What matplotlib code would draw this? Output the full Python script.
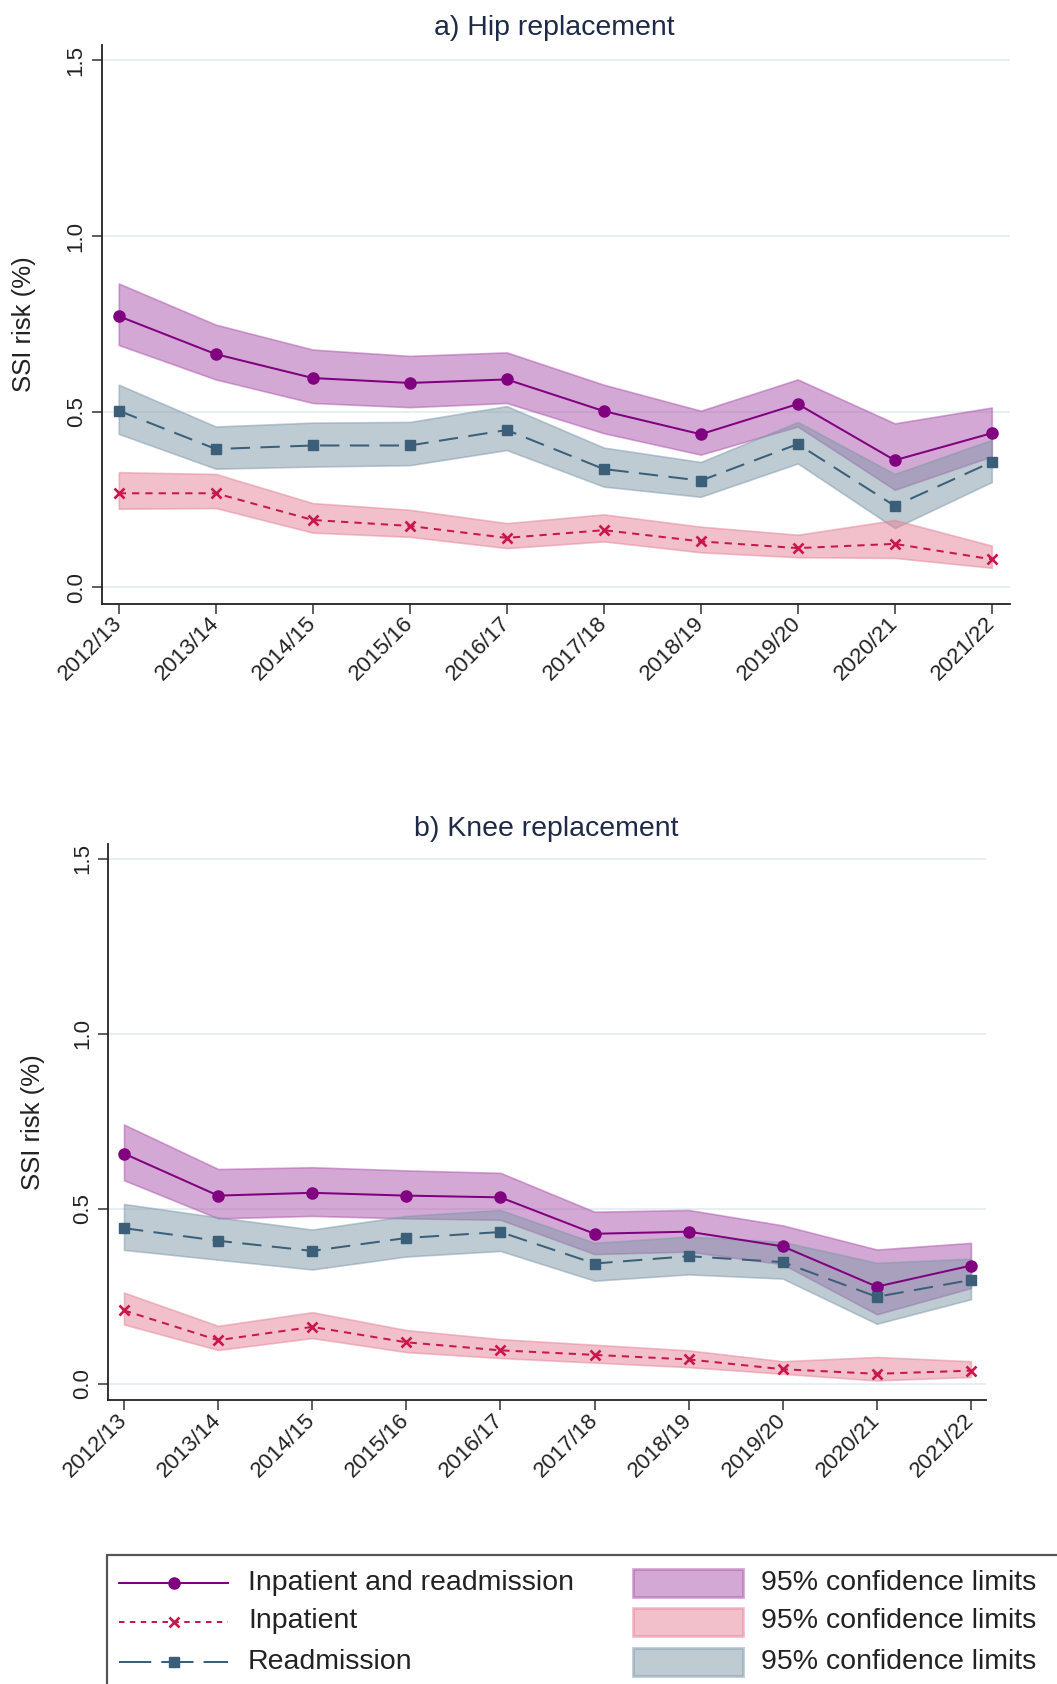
import numpy as np
import matplotlib.pyplot as plt
from matplotlib.patches import Rectangle
from matplotlib.lines import Line2D

plt.rcParams['font.family'] = ['Liberation Sans', 'DejaVu Sans']

years = ['2012/13', '2013/14', '2014/15', '2015/16', '2016/17',
         '2017/18', '2018/19', '2019/20', '2020/21', '2021/22']

# hip replacement, SSI risk (%)
hip_both = [0.772, 0.664, 0.596, 0.582, 0.592, 0.502, 0.436, 0.522, 0.362, 0.439]
hip_both_lo = [0.690, 0.592, 0.525, 0.513, 0.525, 0.439, 0.378, 0.458, 0.278, 0.373]
hip_both_hi = [0.865, 0.748, 0.677, 0.659, 0.669, 0.577, 0.503, 0.592, 0.467, 0.512]
hip_inp = [0.268, 0.268, 0.192, 0.175, 0.141, 0.163, 0.131, 0.112, 0.124, 0.080]
hip_inp_lo = [0.224, 0.226, 0.156, 0.144, 0.112, 0.131, 0.100, 0.086, 0.084, 0.056]
hip_inp_hi = [0.328, 0.323, 0.240, 0.221, 0.183, 0.208, 0.173, 0.150, 0.192, 0.119]
hip_read = [0.503, 0.394, 0.404, 0.404, 0.448, 0.337, 0.304, 0.408, 0.232, 0.357]
hip_read_lo = [0.437, 0.338, 0.344, 0.348, 0.391, 0.287, 0.258, 0.353, 0.169, 0.300]
hip_read_hi = [0.577, 0.458, 0.469, 0.471, 0.516, 0.398, 0.357, 0.471, 0.323, 0.420]

# knee replacement, SSI risk (%)
knee_both = [0.658, 0.538, 0.546, 0.538, 0.533, 0.429, 0.435, 0.393, 0.278, 0.338]
knee_both_lo = [0.582, 0.473, 0.480, 0.473, 0.469, 0.371, 0.378, 0.342, 0.199, 0.274]
knee_both_hi = [0.741, 0.614, 0.619, 0.610, 0.603, 0.492, 0.497, 0.453, 0.384, 0.403]
knee_inp = [0.210, 0.125, 0.163, 0.119, 0.096, 0.083, 0.070, 0.042, 0.029, 0.038]
knee_inp_lo = [0.170, 0.097, 0.131, 0.091, 0.074, 0.061, 0.048, 0.029, 0.010, 0.020]
knee_inp_hi = [0.261, 0.166, 0.205, 0.154, 0.128, 0.112, 0.096, 0.065, 0.077, 0.065]
knee_read = [0.445, 0.409, 0.380, 0.417, 0.434, 0.344, 0.365, 0.348, 0.249, 0.297]
knee_read_lo = [0.383, 0.355, 0.327, 0.364, 0.380, 0.295, 0.313, 0.301, 0.172, 0.242]
knee_read_hi = [0.514, 0.476, 0.441, 0.480, 0.497, 0.403, 0.421, 0.406, 0.346, 0.358]

yticks = [0.0, 0.5, 1.0, 1.5]

PURPLE = '#800080'
PURPLE_CI = '#ab53ab'
RED = '#c8174a'
RED_CI = '#e58399'
NAVY = '#3b5f78'
NAVY_CI = '#7f99a9'
TXT = '#222222'
LW = 1.45

W, H = 1057, 1684
fig = plt.figure(figsize=(W / 100, H / 100), dpi=100)


def panel(rect, xlim, ylim, both, both_lo, both_hi, inp, inp_lo, inp_hi,
          read, read_lo, read_hi):
    ax = fig.add_axes(rect)
    x = np.arange(len(years))
    ax.fill_between(x, both_lo, both_hi, facecolor=PURPLE_CI, edgecolor=PURPLE_CI,
                    alpha=0.5, linewidth=1.2, zorder=2)
    ax.fill_between(x, read_lo, read_hi, facecolor=NAVY_CI, edgecolor=NAVY_CI,
                    alpha=0.5, linewidth=1.2, zorder=2)
    ax.fill_between(x, inp_lo, inp_hi, facecolor=RED_CI, edgecolor=RED_CI,
                    alpha=0.5, linewidth=1.2, zorder=2)
    ax.plot(x, both, color=PURPLE, lw=LW, marker='o', ms=8, zorder=4)
    ax.plot(x, inp, color=RED, lw=LW, dashes=(3.6, 3.0), marker='x', ms=7,
            mew=1.9, zorder=4)
    ax.plot(x, read, color=NAVY, lw=LW, dashes=(9.6, 5.2), marker='s', ms=7.2,
            zorder=4)
    ax.set_xlim(*xlim)
    ax.set_ylim(*ylim)
    ax.set_yticks(yticks)
    ax.set_yticklabels(['%.1f' % v for v in yticks])
    ax.set_xticks(x)
    ax.set_xticklabels(years)
    ax.grid(axis='y', color='#e6eff1', lw=1.4, zorder=0)
    for s in ['top', 'right']:
        ax.spines[s].set_visible(False)
    for s in ['left', 'bottom']:
        ax.spines[s].set_color('#222222')
        ax.spines[s].set_linewidth(1.3)
    ax.tick_params(axis='both', length=7.2, width=1.1, color='#333333',
                   labelsize=16, labelcolor=TXT)
    ax.tick_params(axis='y', labelrotation=90, pad=3.5)
    for lab in ax.get_yticklabels():
        lab.set_va('center')
    ax.tick_params(axis='x', pad=5)
    for lab in ax.get_xticklabels():
        lab.set_rotation(45)
        lab.set_ha('right')
        lab.set_va('center')
        lab.set_rotation_mode('anchor')
    return ax


panel([101.6 / W, 1 - 603.6 / H, 908.2 / W, 559.0 / H], (-0.177, 9.186), (-0.046, 1.545),
      hip_both, hip_both_lo, hip_both_hi, hip_inp, hip_inp_lo, hip_inp_hi,
      hip_read, hip_read_lo, hip_read_hi)
panel([107.8 / W, 1 - 1400.4 / H, 878.2 / W, 556.6 / H], (-0.172, 9.16), (-0.047, 1.543),
      knee_both, knee_both_lo, knee_both_hi, knee_inp, knee_inp_lo, knee_inp_hi,
      knee_read, knee_read_lo, knee_read_hi)

title_col = '#1e2a48'
fig.text(554.5 / W, 1 - 35 / H, 'a) Hip replacement', ha='center', va='baseline',
         fontsize=20.5, color=title_col)
fig.text(546.6 / W, 1 - 836 / H, 'b) Knee replacement', ha='center', va='baseline',
         fontsize=20.5, color=title_col)
fig.text(24 / W, 1 - 324 / H, 'SSI risk (%)', rotation=90, ha='center', va='center',
         fontsize=18.5, color=TXT)
fig.text(32.7 / W, 1 - 1122 / H, 'SSI risk (%)', rotation=90, ha='center', va='center',
         fontsize=18.5, color=TXT)

# legend box, running off the right and bottom edges
fig.add_artist(Rectangle((107.3 / W, -0.05), 1.0, 1 - 1555 / H + 0.05,
                         transform=fig.transFigure, facecolor='white',
                         edgecolor='#555555', lw=1.6, zorder=5))


def fx(px):
    return px / W


def fy(py):
    return 1 - py / H


rows = [1582.7, 1621.5, 1661.7]
fig.add_artist(Line2D([fx(119), fx(228)], [fy(rows[0])] * 2, color=PURPLE, lw=LW,
                      transform=fig.transFigure, zorder=6))
fig.add_artist(Line2D([fx(174)], [fy(rows[0])], color=PURPLE, marker='o', ms=8,
                      transform=fig.transFigure, zorder=6))
fig.add_artist(Line2D([fx(119), fx(228)], [fy(rows[1])] * 2, color=RED, lw=LW,
                      dashes=(2.7, 2.7), transform=fig.transFigure, zorder=6))
fig.add_artist(Line2D([fx(174)], [fy(rows[1])], color=RED, marker='x', ms=7, mew=1.9,
                      transform=fig.transFigure, zorder=6))
fig.add_artist(Line2D([fx(119), fx(228)], [fy(rows[2])] * 2, color=NAVY, lw=LW,
                      dashes=(16.0, 5.0), transform=fig.transFigure, zorder=6))
fig.add_artist(Line2D([fx(174)], [fy(rows[2])], color=NAVY, marker='s', ms=7.2,
                      transform=fig.transFigure, zorder=6))

labels = ['Inpatient and readmission', 'Inpatient', 'Readmission']
ci_cols = [PURPLE_CI, RED_CI, NAVY_CI]
for r, lab, c in zip(rows, labels, ci_cols):
    fig.text(fx(248), fy(r), lab, ha='left', va='center', fontsize=20.5, color=TXT,
             zorder=6)
    fig.add_artist(Rectangle((fx(633), fy(r + 14)), (742.7 - 633) / W, 28 / H,
                             transform=fig.transFigure, facecolor=c, edgecolor=c,
                             alpha=0.5, lw=2, zorder=6))
    fig.text(fx(761), fy(r), '95% confidence limits', ha='left', va='center',
             fontsize=20.5, color=TXT, zorder=6)

fig.savefig('out.png', dpi=100)
